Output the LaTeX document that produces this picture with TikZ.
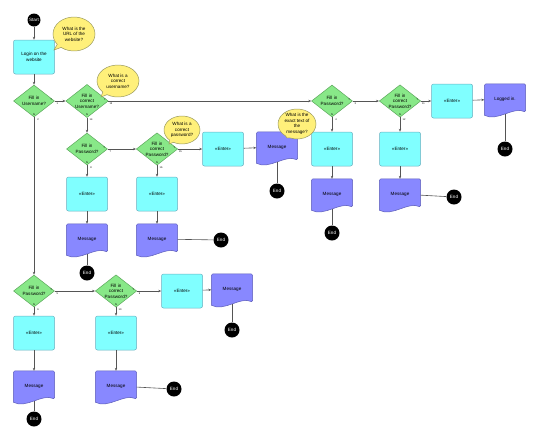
\documentclass[tikz,border=0pt]{standalone}
\usepackage{fontspec}
\setmainfont{Liberation Sans}
\usetikzlibrary{shapes.geometric,shapes.callouts,arrows.meta,calc,backgrounds}
\definecolor{boxc}{HTML}{80FFFF}
\definecolor{boxb}{HTML}{6AAFBF}
\definecolor{dia}{HTML}{88E888}
\definecolor{diab}{HTML}{5CA85C}
\definecolor{msgc}{HTML}{8888FF}
\definecolor{msgb}{HTML}{5C5CB8}
\definecolor{yel}{HTML}{FFF07A}
\definecolor{yelb}{HTML}{9A9A60}
\definecolor{ln}{HTML}{555555}
\newcommand\dlab[3]{%
 \node[tinyl] (#1Y) at ($(#1.east)+(-3.5,-1.5)$) {Y};
 \node[tinyl] (#1a) at ($(#1.east)+(2.5,2.5)$) {#2};
 \node[tinyl] (#1N) at ($(#1.south)+(0,-3)$) {N};
 \node[tinyl] (#1b) at ($(#1.south)+(4,2)$) {#3};
}
\begin{document}
\begin{tikzpicture}[x=1pt,y=-1pt,
 every node/.style={font=\fontsize{4.6}{5.6}\selectfont, align=center},
 boxn/.style={draw=boxb, fill=boxc, rounded corners=2pt, minimum width=41pt, minimum height=34pt, inner sep=0pt, line width=0.5pt},
 dec/.style={diamond, draw=diab, fill=dia, minimum width=41pt, minimum height=32pt, aspect=1.28, inner sep=0pt, line width=0.5pt},
 msgn/.style={minimum width=41pt, minimum height=30pt, inner sep=0pt},
 endn/.style={circle, fill=black, text=white, minimum size=15pt, inner sep=0pt},
 bub/.style={ellipse callout, draw=yelb, fill=yel, inner sep=0pt, line width=0.5pt},
 conn/.style={draw=ln, line width=0.6pt, -{Stealth[length=3pt,width=2.4pt]}},
 plain/.style={draw=ln, line width=0.6pt},
 tinyl/.style={font=\fontsize{2.5}{3}\selectfont, inner sep=0pt}
]
\useasboundingbox (0,0) rectangle (540,440);

% nodes
\node[endn, minimum size=13pt] (start) at (34,20) {Start};
\node[boxn] (login) at (34,57) {Login on the\\website};
\node[dec] (d1) at (34,101) {Fill in\\Username?};
\node[dec] (d2) at (87,101) {Fill in\\correct\\Username?};
\node[dec] (d3) at (87,149) {Fill in\\Password?};
\node[dec] (d4) at (157,149) {Fill in\\correct\\Password?};
\node[boxn] (e4) at (223,149) {«Enter»};
\node[msgn] (m4) at (277,147) {Message};
\node[endn] (end4) at (277,191) {End};
\node[boxn] (e3) at (87,194) {«Enter»};
\node[msgn] (m3) at (87,239) {Message};
\node[endn] (end3) at (87,273) {End};
\node[boxn] (e4b) at (157,194) {«Enter»};
\node[msgn] (m4b) at (157,239) {Message};
\node[endn] (end4b) at (221,240) {End};

\node[dec] (d5) at (332,101) {Fill in\\Password?};
\node[dec] (d6) at (400,101) {Fill in\\correct\\Password?};
\node[boxn] (e6) at (452,101) {«Enter»};
\node[msgn] (ok) at (505,99) {Logged in.};
\node[endn] (endok) at (505,149) {End};
\node[boxn] (e5) at (332,149) {«Enter»};
\node[msgn] (m5) at (332,194) {Message};
\node[endn] (end5) at (332,233) {End};
\node[boxn] (e6b) at (400,149) {«Enter»};
\node[msgn] (m6b) at (400,194) {Message};
\node[endn] (end6b) at (454,197) {End};

\node[dec] (d7) at (34,291) {Fill in\\Password?};
\node[dec] (d8) at (116,291) {Fill in\\correct\\Password?};
\node[boxn] (e8) at (182,291) {«Enter»};
\node[msgn] (m8) at (232,289) {Message};
\node[endn] (end8) at (232,330) {End};
\node[boxn] (e7) at (34,333) {«Enter»};
\node[msgn] (m7) at (34,386) {Message};
\node[endn] (end7) at (34,419) {End};
\node[boxn] (e8b) at (116,333) {«Enter»};
\node[msgn] (m8b) at (116,386) {Message};
\node[endn] (end8b) at (174,389) {End};

% document shapes
\begin{pgfonlayer}{background}
\foreach \m in {m3,m4,m4b,m5,m6b,ok,m7,m8,m8b} {
 \draw[draw=msgb, fill=msgc, line width=0.5pt, rounded corners=1.5pt] ($(\m.south west)+(0,1)$) -- (\m.north west) -- (\m.north east) -- ($(\m.south east)+(0,-2)$) [sharp corners] .. controls ($(\m.south)+(8,-8)$) and ($(\m.south)+(-8,8)$) .. ($(\m.south west)+(0,1)$) -- cycle;
}
\end{pgfonlayer}

% diamond labels
\dlab{d1}{1}{2}
\dlab{d2}{13}{14}
\dlab{d3}{7}{8}
\dlab{d4}{15}{16}
\dlab{d5}{3}{4}
\dlab{d6}{11}{12}
\dlab{d7}{5}{6}
\dlab{d8}{9}{10}

% connectors
\draw[conn] (start) -- (login);
\draw[conn] (login) -- (d1);
\draw[conn] (d1) -- (d2);
\draw[conn] (d2) -- (d5);
\draw[conn] (d2) -- (d3);
\draw[conn] (d3) -- (d4);
\draw[conn] (d4) -- (e4);
\draw[conn] (e4) -- (m4);
\draw[plain] (m4.south) -- (end4);
\draw[conn] (d3) -- (e3);
\draw[conn] (e3) -- (m3);
\draw[plain] (m3.south) -- (end3);
\draw[conn] (d4) -- (e4b);
\draw[conn] (e4b) -- (m4b);
\draw[plain] (m4b) -- (end4b);

\draw[conn] (d5) -- (d6);
\draw[conn] (d6) -- (e6);
\draw[conn] (e6) -- (ok);
\draw[plain] (ok.south) -- (endok);
\draw[conn] (d5) -- (e5);
\draw[conn] (e5) -- (m5);
\draw[plain] (m5.south) -- (end5);
\draw[conn] (d6) -- (e6b);
\draw[conn] (e6b) -- (m6b);
\draw[plain] (m6b) -- (end6b);

\draw[conn] (d1) -- (d7);
\draw[conn] (d7) -- (d8);
\draw[conn] (d8) -- (e8);
\draw[conn] (e8) -- (m8);
\draw[plain] (m8.south) -- (end8);
\draw[conn] (d7) -- (e7);
\draw[conn] (e7) -- (m7);
\draw[plain] (m7.south) -- (end7);
\draw[conn] (d8) -- (e8b);
\draw[conn] (e8b) -- (m8b);
\draw[plain] (m8b) -- (end8b);

% callouts
\coordinate (p1) at (54,50);
\coordinate (p2) at (101,97);
\coordinate (p3) at (169,144);
\coordinate (p4) at (287,138);
\node[bub, minimum width=42pt, minimum height=34pt, callout absolute pointer={(p1)}] (c1) at (74,34) {What is the\\URL of the\\website?};
\node[bub, minimum width=42pt, minimum height=32pt, callout absolute pointer={(p2)}] (c2) at (118,81) {What is a\\correct\\username?};
\node[bub, minimum width=36pt, minimum height=28pt, callout absolute pointer={(p3)}] (c3) at (182,130) {What is a\\correct\\password?};
\node[bub, minimum width=38pt, minimum height=30pt, callout absolute pointer={(p4)}] (c4) at (297,124) {What is the\\exact text of\\the\\message?};
\end{tikzpicture}
\end{document}
